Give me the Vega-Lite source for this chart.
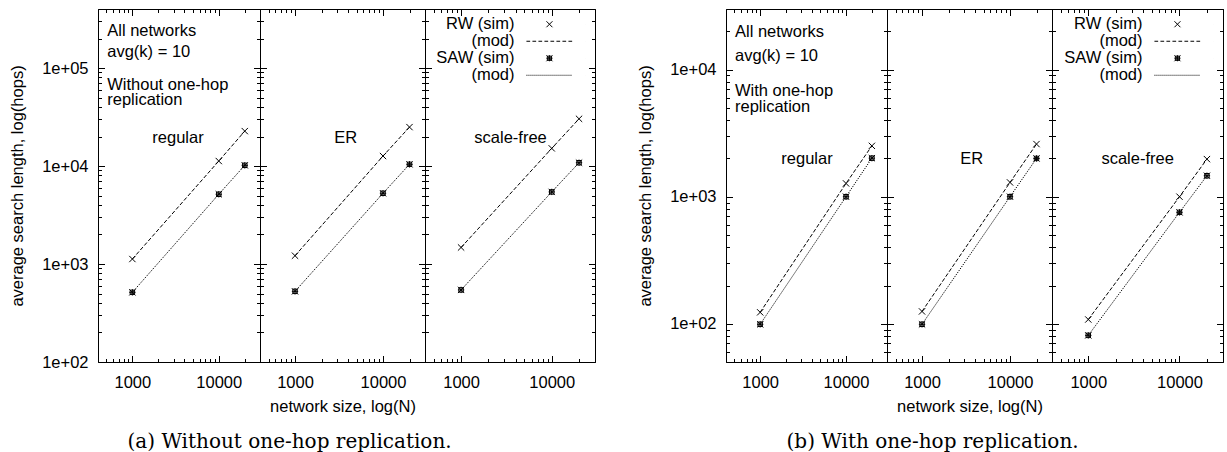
{
  "$schema": "https://vega.github.io/schema/vega-lite/v6.json",
  "padding": {"left": 9, "top": 0, "right": 0, "bottom": 0},
  "background": "white",
  "config": {
    "font": "Liberation Sans",
    "view": {"stroke": "black", "strokeWidth": 1},
    "axis": {"labelFont": "Liberation Sans", "titleFont": "Liberation Sans", "labelFontSize": 16.5, "titleFontSize": 16.5, "titleFontWeight": "normal", "labelColor": "black", "titleColor": "black", "tickColor": "black", "tickWidth": 1, "domain": false, "grid": false, "tickSize": -4, "labelOverlap": false, "labelFlush": false, "labelBound": false},
    "legend": {"labelFont": "Liberation Sans", "labelFontSize": 16.5, "labelColor": "black"}
  },
  "datasets": {
    "rows": [
      {"fig": "a", "net": "regular", "series": "RW (sim)", "N": 1000, "hops": 1124},
      {"fig": "a", "net": "regular", "series": "RW (sim)", "N": 10000, "hops": 11240},
      {"fig": "a", "net": "regular", "series": "RW (sim)", "N": 20000, "hops": 22700},
      {"fig": "a", "net": "regular", "series": "RW (mod)", "N": 1000, "hops": 1124},
      {"fig": "a", "net": "regular", "series": "RW (mod)", "N": 10000, "hops": 11240},
      {"fig": "a", "net": "regular", "series": "RW (mod)", "N": 20000, "hops": 22700},
      {"fig": "a", "net": "regular", "series": "SAW (sim)", "N": 1000, "hops": 514},
      {"fig": "a", "net": "regular", "series": "SAW (sim)", "N": 10000, "hops": 5150},
      {"fig": "a", "net": "regular", "series": "SAW (sim)", "N": 20000, "hops": 10160},
      {"fig": "a", "net": "regular", "series": "SAW (mod)", "N": 1000, "hops": 514},
      {"fig": "a", "net": "regular", "series": "SAW (mod)", "N": 10000, "hops": 5150},
      {"fig": "a", "net": "regular", "series": "SAW (mod)", "N": 20000, "hops": 10160},
      {"fig": "a", "net": "ER", "series": "RW (sim)", "N": 1000, "hops": 1215},
      {"fig": "a", "net": "ER", "series": "RW (sim)", "N": 10000, "hops": 12640},
      {"fig": "a", "net": "ER", "series": "RW (sim)", "N": 20000, "hops": 24940},
      {"fig": "a", "net": "ER", "series": "RW (mod)", "N": 1000, "hops": 1215},
      {"fig": "a", "net": "ER", "series": "RW (mod)", "N": 10000, "hops": 12640},
      {"fig": "a", "net": "ER", "series": "RW (mod)", "N": 20000, "hops": 24940},
      {"fig": "a", "net": "ER", "series": "SAW (sim)", "N": 1000, "hops": 526},
      {"fig": "a", "net": "ER", "series": "SAW (sim)", "N": 10000, "hops": 5270},
      {"fig": "a", "net": "ER", "series": "SAW (sim)", "N": 20000, "hops": 10400},
      {"fig": "a", "net": "ER", "series": "SAW (mod)", "N": 1000, "hops": 526},
      {"fig": "a", "net": "ER", "series": "SAW (mod)", "N": 10000, "hops": 5270},
      {"fig": "a", "net": "ER", "series": "SAW (mod)", "N": 20000, "hops": 10400},
      {"fig": "a", "net": "scale-free", "series": "RW (sim)", "N": 1000, "hops": 1475},
      {"fig": "a", "net": "scale-free", "series": "RW (sim)", "N": 10000, "hops": 15140},
      {"fig": "a", "net": "scale-free", "series": "RW (sim)", "N": 20000, "hops": 30300},
      {"fig": "a", "net": "scale-free", "series": "RW (mod)", "N": 1000, "hops": 1475},
      {"fig": "a", "net": "scale-free", "series": "RW (mod)", "N": 10000, "hops": 15140},
      {"fig": "a", "net": "scale-free", "series": "RW (mod)", "N": 20000, "hops": 30300},
      {"fig": "a", "net": "scale-free", "series": "SAW (sim)", "N": 1000, "hops": 544},
      {"fig": "a", "net": "scale-free", "series": "SAW (sim)", "N": 10000, "hops": 5440},
      {"fig": "a", "net": "scale-free", "series": "SAW (sim)", "N": 20000, "hops": 10800},
      {"fig": "a", "net": "scale-free", "series": "SAW (mod)", "N": 1000, "hops": 544},
      {"fig": "a", "net": "scale-free", "series": "SAW (mod)", "N": 10000, "hops": 5440},
      {"fig": "a", "net": "scale-free", "series": "SAW (mod)", "N": 20000, "hops": 10800},
      {"fig": "b", "net": "regular", "series": "RW (sim)", "N": 1000, "hops": 123},
      {"fig": "b", "net": "regular", "series": "RW (sim)", "N": 10000, "hops": 1272},
      {"fig": "b", "net": "regular", "series": "RW (sim)", "N": 20000, "hops": 2512},
      {"fig": "b", "net": "regular", "series": "RW (mod)", "N": 1000, "hops": 123},
      {"fig": "b", "net": "regular", "series": "RW (mod)", "N": 10000, "hops": 1272},
      {"fig": "b", "net": "regular", "series": "RW (mod)", "N": 20000, "hops": 2512},
      {"fig": "b", "net": "regular", "series": "SAW (sim)", "N": 1000, "hops": 99},
      {"fig": "b", "net": "regular", "series": "SAW (sim)", "N": 10000, "hops": 1000},
      {"fig": "b", "net": "regular", "series": "SAW (sim)", "N": 20000, "hops": 2010},
      {"fig": "b", "net": "regular", "series": "SAW (mod)", "N": 1000, "hops": 99},
      {"fig": "b", "net": "regular", "series": "SAW (mod)", "N": 10000, "hops": 1000},
      {"fig": "b", "net": "regular", "series": "SAW (mod)", "N": 20000, "hops": 2010},
      {"fig": "b", "net": "ER", "series": "RW (sim)", "N": 1000, "hops": 125},
      {"fig": "b", "net": "ER", "series": "RW (sim)", "N": 10000, "hops": 1295},
      {"fig": "b", "net": "ER", "series": "RW (sim)", "N": 20000, "hops": 2595},
      {"fig": "b", "net": "ER", "series": "RW (mod)", "N": 1000, "hops": 125},
      {"fig": "b", "net": "ER", "series": "RW (mod)", "N": 10000, "hops": 1295},
      {"fig": "b", "net": "ER", "series": "RW (mod)", "N": 20000, "hops": 2595},
      {"fig": "b", "net": "ER", "series": "SAW (sim)", "N": 1000, "hops": 99},
      {"fig": "b", "net": "ER", "series": "SAW (sim)", "N": 10000, "hops": 1000},
      {"fig": "b", "net": "ER", "series": "SAW (sim)", "N": 20000, "hops": 2000},
      {"fig": "b", "net": "ER", "series": "SAW (mod)", "N": 1000, "hops": 99},
      {"fig": "b", "net": "ER", "series": "SAW (mod)", "N": 10000, "hops": 1000},
      {"fig": "b", "net": "ER", "series": "SAW (mod)", "N": 20000, "hops": 2000},
      {"fig": "b", "net": "scale-free", "series": "RW (sim)", "N": 1000, "hops": 108},
      {"fig": "b", "net": "scale-free", "series": "RW (sim)", "N": 10000, "hops": 1000},
      {"fig": "b", "net": "scale-free", "series": "RW (sim)", "N": 20000, "hops": 1976},
      {"fig": "b", "net": "scale-free", "series": "RW (mod)", "N": 1000, "hops": 108},
      {"fig": "b", "net": "scale-free", "series": "RW (mod)", "N": 10000, "hops": 1000},
      {"fig": "b", "net": "scale-free", "series": "RW (mod)", "N": 20000, "hops": 1976},
      {"fig": "b", "net": "scale-free", "series": "SAW (sim)", "N": 1000, "hops": 81},
      {"fig": "b", "net": "scale-free", "series": "SAW (sim)", "N": 10000, "hops": 753},
      {"fig": "b", "net": "scale-free", "series": "SAW (sim)", "N": 20000, "hops": 1462},
      {"fig": "b", "net": "scale-free", "series": "SAW (mod)", "N": 1000, "hops": 81},
      {"fig": "b", "net": "scale-free", "series": "SAW (mod)", "N": 10000, "hops": 753},
      {"fig": "b", "net": "scale-free", "series": "SAW (mod)", "N": 20000, "hops": 1462}
    ]
  },
  "hconcat": [
    {
      "title": {"text": "(a) Without one-hop replication.", "orient": "bottom", "anchor": "middle", "frame": "bounds", "font": "DejaVu Serif", "fontSize": 20, "fontWeight": "normal", "color": "black", "offset": 16.5, "dx": -13},
      "spacing": 0,
      "bounds": "flush",
      "resolve": {"scale": {"shape": "independent", "strokeDash": "independent"}},
      "hconcat": [
        {
          "width": 162, "height": 353,
          "data": {"name": "rows"},
          "transform": [{"filter": "datum.fig == 'a' && datum.net == 'regular'"}],
          "layer": [
            {
              "transform": [{"filter": "datum.series == 'RW (sim)'"}],
              "mark": {"type": "point", "shape": "M-1,-1L1,1M-1,1L1,-1", "filled": false, "stroke": "black", "strokeWidth": 1, "size": 40, "opacity": 1},
              "encoding": {
                "x": {"field": "N", "type": "quantitative", "scale": {"type": "log", "domain": [400, 30000], "nice": false},
                  "axis": {"orient": "bottom", "values": [400,500,600,700,800,900,1000,2000,3000,4000,5000,6000,7000,8000,9000,10000,20000,30000], "labelExpr": "datum.value == 1000 || datum.value == 10000 ? format(datum.value, 'd') : ''", "tickSize": {"condition": {"test": "datum.value == 1000 || datum.value == 10000", "value": -6.5}, "value": -3.5}, "labelPadding": 18.5, "title": null}},
                "y": {"field": "hops", "type": "quantitative", "scale": {"type": "log", "domain": [100, 400000], "nice": false},
                  "axis": {"orient": "left", "values": [100,200,300,400,500,600,700,800,900,1000,2000,3000,4000,5000,6000,7000,8000,9000,10000,20000,30000,40000,50000,60000,70000,80000,90000,100000,200000,300000,400000], "labelExpr": "indexof([100,1000,10000,100000], datum.value) >= 0 ? '1e+0' + round(log(datum.value)/LN10) : ''", "tickSize": {"condition": {"test": "indexof([100,1000,10000,100000], datum.value) >= 0", "value": -6.5}, "value": -3.5}, "labelPadding": 16.5, "title": "average search length, log(hops)", "titlePadding": 16}}
              }
            },
            {
              "transform": [{"filter": "datum.series == 'SAW (sim)'"}],
              "mark": {"type": "point", "shape": "M-1,-1L1,1M-1,1L1,-1M-1,0L1,0M0,-1L0,1M-0.7,-0.7L0.7,-0.7L0.7,0.7L-0.7,0.7Z", "filled": false, "stroke": "black", "strokeWidth": 1, "size": 40, "opacity": 1},
              "encoding": {
                "x": {"field": "N", "type": "quantitative", "axis": null},
                "y": {"field": "hops", "type": "quantitative", "axis": null}
              }
            },
            {
              "transform": [{"filter": "indexof(datum.series, 'mod') >= 0"}],
              "mark": {"type": "line", "stroke": "black", "strokeWidth": 1},
              "encoding": {
                "x": {"field": "N", "type": "quantitative",
                  "axis": {"orient": "top", "values": [400,500,600,700,800,900,1000,2000,3000,4000,5000,6000,7000,8000,9000,10000,20000,30000], "labels": false, "tickSize": {"condition": {"test": "datum.value == 1000 || datum.value == 10000", "value": -6.5}, "value": -3.5}, "title": null}},
                "y": {"field": "hops", "type": "quantitative",
                  "axis": {"orient": "right", "values": [100,200,300,400,500,600,700,800,900,1000,2000,3000,4000,5000,6000,7000,8000,9000,10000,20000,30000,40000,50000,60000,70000,80000,90000,100000,200000,300000,400000], "labels": false, "tickSize": {"condition": {"test": "indexof([100,1000,10000,100000], datum.value) >= 0", "value": -6.5}, "value": -3.5}, "title": null}},
                "strokeDash": {"field": "series", "type": "nominal", "scale": {"domain": ["RW (mod)", "SAW (mod)"], "range": [[4, 2], [1.2, 1.2]]}, "legend": null}
              }
            },
            {
              "data": {"values": [{"label": "All networks"}]},
              "mark": {"type": "text", "align": "left", "baseline": "middle", "fontSize": 16.5, "color": "black"},
              "encoding": {"x": {"datum": 512, "type": "quantitative", "axis": null}, "y": {"datum": 240000, "type": "quantitative", "axis": null}, "text": {"field": "label"}}
            },
            {
              "data": {"values": [{"label": "avg(k) = 10"}]},
              "mark": {"type": "text", "align": "left", "baseline": "middle", "fontSize": 16.5, "color": "black"},
              "encoding": {"x": {"datum": 512, "type": "quantitative", "axis": null}, "y": {"datum": 145500, "type": "quantitative", "axis": null}, "text": {"field": "label"}}
            },
            {
              "data": {"values": [{"label": "Without one-hop"}]},
              "mark": {"type": "text", "align": "left", "baseline": "middle", "fontSize": 16.5, "color": "black"},
              "encoding": {"x": {"datum": 512, "type": "quantitative", "axis": null}, "y": {"datum": 67800, "type": "quantitative", "axis": null}, "text": {"field": "label"}}
            },
            {
              "data": {"values": [{"label": "replication"}]},
              "mark": {"type": "text", "align": "left", "baseline": "middle", "fontSize": 16.5, "color": "black"},
              "encoding": {"x": {"datum": 512, "type": "quantitative", "axis": null}, "y": {"datum": 46600, "type": "quantitative", "axis": null}, "text": {"field": "label"}}
            },
            {
              "data": {"values": [{"label": "regular"}]},
              "mark": {"type": "text", "align": "center", "baseline": "middle", "fontSize": 16.5, "color": "black"},
              "encoding": {"x": {"datum": 3375, "type": "quantitative", "axis": null}, "y": {"datum": 19400, "type": "quantitative", "axis": null}, "text": {"field": "label"}}
            }
          ],
          "resolve": {"axis": {"x": "independent", "y": "independent"}}
        },
        {
          "width": 165, "height": 353,
          "data": {"name": "rows"},
          "transform": [{"filter": "datum.fig == 'a' && datum.net == 'ER'"}],
          "layer": [
            {
              "transform": [{"filter": "datum.series == 'RW (sim)'"}],
              "mark": {"type": "point", "shape": "M-1,-1L1,1M-1,1L1,-1", "filled": false, "stroke": "black", "strokeWidth": 1, "size": 40, "opacity": 1},
              "encoding": {
                "x": {"field": "N", "type": "quantitative", "scale": {"type": "log", "domain": [400, 30000], "nice": false},
                  "axis": {"orient": "bottom", "values": [400,500,600,700,800,900,1000,2000,3000,4000,5000,6000,7000,8000,9000,10000,20000,30000], "labelExpr": "datum.value == 1000 || datum.value == 10000 ? format(datum.value, 'd') : ''", "tickSize": {"condition": {"test": "datum.value == 1000 || datum.value == 10000", "value": -6.5}, "value": -3.5}, "labelPadding": 18.5, "title": "network size, log(N)", "titlePadding": 5}},
                "y": {"field": "hops", "type": "quantitative", "scale": {"type": "log", "domain": [100, 400000], "nice": false},
                  "axis": {"orient": "left", "values": [100,200,300,400,500,600,700,800,900,1000,2000,3000,4000,5000,6000,7000,8000,9000,10000,20000,30000,40000,50000,60000,70000,80000,90000,100000,200000,300000,400000], "labels": false, "tickSize": {"condition": {"test": "indexof([100,1000,10000,100000], datum.value) >= 0", "value": -6.5}, "value": -3.5}, "title": null}}
              }
            },
            {
              "transform": [{"filter": "datum.series == 'SAW (sim)'"}],
              "mark": {"type": "point", "shape": "M-1,-1L1,1M-1,1L1,-1M-1,0L1,0M0,-1L0,1M-0.7,-0.7L0.7,-0.7L0.7,0.7L-0.7,0.7Z", "filled": false, "stroke": "black", "strokeWidth": 1, "size": 40, "opacity": 1},
              "encoding": {
                "x": {"field": "N", "type": "quantitative", "axis": null},
                "y": {"field": "hops", "type": "quantitative", "axis": null}
              }
            },
            {
              "transform": [{"filter": "indexof(datum.series, 'mod') >= 0"}],
              "mark": {"type": "line", "stroke": "black", "strokeWidth": 1},
              "encoding": {
                "x": {"field": "N", "type": "quantitative",
                  "axis": {"orient": "top", "values": [400,500,600,700,800,900,1000,2000,3000,4000,5000,6000,7000,8000,9000,10000,20000,30000], "labels": false, "tickSize": {"condition": {"test": "datum.value == 1000 || datum.value == 10000", "value": -6.5}, "value": -3.5}, "title": null}},
                "y": {"field": "hops", "type": "quantitative",
                  "axis": {"orient": "right", "values": [100,200,300,400,500,600,700,800,900,1000,2000,3000,4000,5000,6000,7000,8000,9000,10000,20000,30000,40000,50000,60000,70000,80000,90000,100000,200000,300000,400000], "labels": false, "tickSize": {"condition": {"test": "indexof([100,1000,10000,100000], datum.value) >= 0", "value": -6.5}, "value": -3.5}, "title": null}},
                "strokeDash": {"field": "series", "type": "nominal", "scale": {"domain": ["RW (mod)", "SAW (mod)"], "range": [[4, 2], [1.2, 1.2]]}, "legend": null}
              }
            },
            {
              "data": {"values": [{"label": "ER"}]},
              "mark": {"type": "text", "align": "center", "baseline": "middle", "fontSize": 16.5, "color": "black"},
              "encoding": {"x": {"datum": 3760, "type": "quantitative", "axis": null}, "y": {"datum": 19400, "type": "quantitative", "axis": null}, "text": {"field": "label"}}
            }
          ],
          "resolve": {"axis": {"x": "independent", "y": "independent"}}
        },
        {
          "width": 170, "height": 353,
          "data": {"name": "rows"},
          "transform": [{"filter": "datum.fig == 'a' && datum.net == 'scale-free'"}],
          "layer": [
            {
              "transform": [{"filter": "datum.series == 'RW (sim)'"}],
              "mark": {"type": "point", "shape": "M-1,-1L1,1M-1,1L1,-1", "filled": false, "stroke": "black", "strokeWidth": 1, "size": 40, "opacity": 1},
              "encoding": {
                "x": {"field": "N", "type": "quantitative", "scale": {"type": "log", "domain": [400, 30000], "nice": false},
                  "axis": {"orient": "bottom", "values": [400,500,600,700,800,900,1000,2000,3000,4000,5000,6000,7000,8000,9000,10000,20000,30000], "labelExpr": "datum.value == 1000 || datum.value == 10000 ? format(datum.value, 'd') : ''", "tickSize": {"condition": {"test": "datum.value == 1000 || datum.value == 10000", "value": -6.5}, "value": -3.5}, "labelPadding": 18.5, "title": null}},
                "y": {"field": "hops", "type": "quantitative", "scale": {"type": "log", "domain": [100, 400000], "nice": false},
                  "axis": {"orient": "left", "values": [100,200,300,400,500,600,700,800,900,1000,2000,3000,4000,5000,6000,7000,8000,9000,10000,20000,30000,40000,50000,60000,70000,80000,90000,100000,200000,300000,400000], "labels": false, "tickSize": {"condition": {"test": "indexof([100,1000,10000,100000], datum.value) >= 0", "value": -6.5}, "value": -3.5}, "title": null}}
              }
            },
            {
              "transform": [{"filter": "datum.series == 'SAW (sim)'"}],
              "mark": {"type": "point", "shape": "M-1,-1L1,1M-1,1L1,-1M-1,0L1,0M0,-1L0,1M-0.7,-0.7L0.7,-0.7L0.7,0.7L-0.7,0.7Z", "filled": false, "stroke": "black", "strokeWidth": 1, "size": 40, "opacity": 1},
              "encoding": {
                "x": {"field": "N", "type": "quantitative", "axis": null},
                "y": {"field": "hops", "type": "quantitative", "axis": null}
              }
            },
            {
              "transform": [{"filter": "indexof(datum.series, 'mod') >= 0"}],
              "mark": {"type": "line", "stroke": "black", "strokeWidth": 1},
              "encoding": {
                "x": {"field": "N", "type": "quantitative",
                  "axis": {"orient": "top", "values": [400,500,600,700,800,900,1000,2000,3000,4000,5000,6000,7000,8000,9000,10000,20000,30000], "labels": false, "tickSize": {"condition": {"test": "datum.value == 1000 || datum.value == 10000", "value": -6.5}, "value": -3.5}, "title": null}},
                "y": {"field": "hops", "type": "quantitative",
                  "axis": {"orient": "right", "values": [100,200,300,400,500,600,700,800,900,1000,2000,3000,4000,5000,6000,7000,8000,9000,10000,20000,30000,40000,50000,60000,70000,80000,90000,100000,200000,300000,400000], "labels": false, "tickSize": {"condition": {"test": "indexof([100,1000,10000,100000], datum.value) >= 0", "value": -6.5}, "value": -3.5}, "title": null}},
                "strokeDash": {"field": "series", "type": "nominal", "scale": {"domain": ["RW (mod)", "SAW (mod)"], "range": [[4, 2], [1.2, 1.2]]}, "legend": null}
              }
            },
            {
              "data": {"values": [{"label": "scale-free"}]},
              "mark": {"type": "text", "align": "center", "baseline": "middle", "fontSize": 16.5, "color": "black"},
              "encoding": {"x": {"datum": 3515, "type": "quantitative", "axis": null}, "y": {"datum": 19500, "type": "quantitative", "axis": null}, "text": {"field": "label"}}
            },
            {
              "transform": [{"filter": "indexof(datum.series, 'sim') >= 0"}],
              "mark": {"type": "point", "filled": false, "opacity": 0, "stroke": "black", "size": 49},
              "encoding": {
                "shape": {"field": "series", "type": "nominal",
                  "scale": {"domain": ["RW (sim)", "RW (mod)", "SAW (sim)", "SAW (mod)"], "range": [
                    "M-30,0l0.001,0M19.2,0l0.001,0M8.057,-0.857L9.771,0.857M8.057,0.857L9.771,-0.857",
                    "M-30,0l0.001,0M19.2,0l0.001,0M2.343,0h1.057m0.657,0h1.057m0.657,0h1.057m0.657,0h1.057m0.657,0h1.057m0.657,0h1.057m0.657,0h1.057m0.657,0h1.057",
                    "M-30,0l0.001,0M19.2,0l0.001,0M8.057,-0.857L9.771,0.857M8.057,0.857L9.771,-0.857M8.057,0L9.771,0M8.914,-0.857L8.914,0.857M8.314,-0.6L9.514,-0.6L9.514,0.6L8.314,0.6Z",
                    "M-30,0l0.001,0M19.2,0l0.001,0M2.343,0h0.286m0.286,0h0.286m0.286,0h0.286m0.286,0h0.286m0.286,0h0.286m0.286,0h0.286m0.286,0h0.286m0.286,0h0.286m0.286,0h0.286m0.286,0h0.286m0.286,0h0.286m0.286,0h0.286m0.286,0h0.286m0.286,0h0.286m0.286,0h0.286m0.286,0h0.286m0.286,0h0.286m0.286,0h0.286m0.286,0h0.286m0.286,0h0.286m0.286,0h0.286m0.286,0h0.286m0.286,0h0.286"]},
                  "legend": {"orient": "top-right", "offset": 7, "padding": 0, "title": null, "labelExpr": "indexof(datum.label, 'mod') >= 0 ? '(mod)' : datum.label", "labelAlign": "right", "labelOffset": -12, "symbolSize": 49, "symbolStrokeColor": "black", "symbolFillColor": "transparent", "symbolStrokeWidth": 1, "symbolOpacity": 1, "rowPadding": -1}}
              }
            }
          ],
          "resolve": {"axis": {"x": "independent", "y": "independent"}}
        }
      ]
    },
    {
      "title": {"text": "(b) With one-hop replication.", "orient": "bottom", "anchor": "middle", "frame": "bounds", "font": "DejaVu Serif", "fontSize": 20, "fontWeight": "normal", "color": "black", "offset": 16.5, "dx": 2},
      "spacing": 0,
      "bounds": "flush",
      "resolve": {"scale": {"shape": "independent", "strokeDash": "independent"}},
      "hconcat": [
        {
          "width": 161, "height": 353,
          "data": {"name": "rows"},
          "transform": [{"filter": "datum.fig == 'b' && datum.net == 'regular'"}],
          "layer": [
            {
              "transform": [{"filter": "datum.series == 'RW (sim)'"}],
              "mark": {"type": "point", "shape": "M-1,-1L1,1M-1,1L1,-1", "filled": false, "stroke": "black", "strokeWidth": 1, "size": 40, "opacity": 1},
              "encoding": {
                "x": {"field": "N", "type": "quantitative", "scale": {"type": "log", "domain": [400, 30000], "nice": false},
                  "axis": {"orient": "bottom", "values": [400,500,600,700,800,900,1000,2000,3000,4000,5000,6000,7000,8000,9000,10000,20000,30000], "labelExpr": "datum.value == 1000 || datum.value == 10000 ? format(datum.value, 'd') : ''", "tickSize": {"condition": {"test": "datum.value == 1000 || datum.value == 10000", "value": -6.5}, "value": -3.5}, "labelPadding": 18.5, "title": null}},
                "y": {"field": "hops", "type": "quantitative", "scale": {"type": "log", "domain": [50, 30000], "nice": false},
                  "axis": {"orient": "left", "values": [50,60,70,80,90,100,200,300,400,500,600,700,800,900,1000,2000,3000,4000,5000,6000,7000,8000,9000,10000,20000,30000], "labelExpr": "indexof([100,1000,10000], datum.value) >= 0 ? '1e+0' + round(log(datum.value)/LN10) : ''", "tickSize": {"condition": {"test": "indexof([100,1000,10000], datum.value) >= 0", "value": -6.5}, "value": -3.5}, "labelPadding": 16.5, "title": "average search length, log(hops)", "titlePadding": 16}}
              }
            },
            {
              "transform": [{"filter": "datum.series == 'SAW (sim)'"}],
              "mark": {"type": "point", "shape": "M-1,-1L1,1M-1,1L1,-1M-1,0L1,0M0,-1L0,1M-0.7,-0.7L0.7,-0.7L0.7,0.7L-0.7,0.7Z", "filled": false, "stroke": "black", "strokeWidth": 1, "size": 40, "opacity": 1},
              "encoding": {
                "x": {"field": "N", "type": "quantitative", "axis": null},
                "y": {"field": "hops", "type": "quantitative", "axis": null}
              }
            },
            {
              "transform": [{"filter": "indexof(datum.series, 'mod') >= 0"}],
              "mark": {"type": "line", "stroke": "black", "strokeWidth": 1},
              "encoding": {
                "x": {"field": "N", "type": "quantitative",
                  "axis": {"orient": "top", "values": [400,500,600,700,800,900,1000,2000,3000,4000,5000,6000,7000,8000,9000,10000,20000,30000], "labels": false, "tickSize": {"condition": {"test": "datum.value == 1000 || datum.value == 10000", "value": -6.5}, "value": -3.5}, "title": null}},
                "y": {"field": "hops", "type": "quantitative",
                  "axis": {"orient": "right", "values": [50,60,70,80,90,100,200,300,400,500,600,700,800,900,1000,2000,3000,4000,5000,6000,7000,8000,9000,10000,20000,30000], "labels": false, "tickSize": {"condition": {"test": "indexof([100,1000,10000], datum.value) >= 0", "value": -6.5}, "value": -3.5}, "title": null}},
                "strokeDash": {"field": "series", "type": "nominal", "scale": {"domain": ["RW (mod)", "SAW (mod)"], "range": [[4, 2], [1.2, 1.2]]}, "legend": null}
              }
            },
            {
              "data": {"values": [{"label": "All networks"}]},
              "mark": {"type": "text", "align": "left", "baseline": "middle", "fontSize": 16.5, "color": "black"},
              "encoding": {"x": {"datum": 509, "type": "quantitative", "axis": null}, "y": {"datum": 19950, "type": "quantitative", "axis": null}, "text": {"field": "label"}}
            },
            {
              "data": {"values": [{"label": "avg(k) = 10"}]},
              "mark": {"type": "text", "align": "left", "baseline": "middle", "fontSize": 16.5, "color": "black"},
              "encoding": {"x": {"datum": 509, "type": "quantitative", "axis": null}, "y": {"datum": 12700, "type": "quantitative", "axis": null}, "text": {"field": "label"}}
            },
            {
              "data": {"values": [{"label": "With one-hop"}]},
              "mark": {"type": "text", "align": "left", "baseline": "middle", "fontSize": 16.5, "color": "black"},
              "encoding": {"x": {"datum": 509, "type": "quantitative", "axis": null}, "y": {"datum": 6840, "type": "quantitative", "axis": null}, "text": {"field": "label"}}
            },
            {
              "data": {"values": [{"label": "replication"}]},
              "mark": {"type": "text", "align": "left", "baseline": "middle", "fontSize": 16.5, "color": "black"},
              "encoding": {"x": {"datum": 509, "type": "quantitative", "axis": null}, "y": {"datum": 5060, "type": "quantitative", "axis": null}, "text": {"field": "label"}}
            },
            {
              "data": {"values": [{"label": "regular"}]},
              "mark": {"type": "text", "align": "center", "baseline": "middle", "fontSize": 16.5, "color": "black"},
              "encoding": {"x": {"datum": 3510, "type": "quantitative", "axis": null}, "y": {"datum": 1976, "type": "quantitative", "axis": null}, "text": {"field": "label"}}
            }
          ],
          "resolve": {"axis": {"x": "independent", "y": "independent"}}
        },
        {
          "width": 165, "height": 353,
          "data": {"name": "rows"},
          "transform": [{"filter": "datum.fig == 'b' && datum.net == 'ER'"}],
          "layer": [
            {
              "transform": [{"filter": "datum.series == 'RW (sim)'"}],
              "mark": {"type": "point", "shape": "M-1,-1L1,1M-1,1L1,-1", "filled": false, "stroke": "black", "strokeWidth": 1, "size": 40, "opacity": 1},
              "encoding": {
                "x": {"field": "N", "type": "quantitative", "scale": {"type": "log", "domain": [400, 30000], "nice": false},
                  "axis": {"orient": "bottom", "values": [400,500,600,700,800,900,1000,2000,3000,4000,5000,6000,7000,8000,9000,10000,20000,30000], "labelExpr": "datum.value == 1000 || datum.value == 10000 ? format(datum.value, 'd') : ''", "tickSize": {"condition": {"test": "datum.value == 1000 || datum.value == 10000", "value": -6.5}, "value": -3.5}, "labelPadding": 18.5, "title": "network size, log(N)", "titlePadding": 5}},
                "y": {"field": "hops", "type": "quantitative", "scale": {"type": "log", "domain": [50, 30000], "nice": false},
                  "axis": {"orient": "left", "values": [50,60,70,80,90,100,200,300,400,500,600,700,800,900,1000,2000,3000,4000,5000,6000,7000,8000,9000,10000,20000,30000], "labels": false, "tickSize": {"condition": {"test": "indexof([100,1000,10000], datum.value) >= 0", "value": -6.5}, "value": -3.5}, "title": null}}
              }
            },
            {
              "transform": [{"filter": "datum.series == 'SAW (sim)'"}],
              "mark": {"type": "point", "shape": "M-1,-1L1,1M-1,1L1,-1M-1,0L1,0M0,-1L0,1M-0.7,-0.7L0.7,-0.7L0.7,0.7L-0.7,0.7Z", "filled": false, "stroke": "black", "strokeWidth": 1, "size": 40, "opacity": 1},
              "encoding": {
                "x": {"field": "N", "type": "quantitative", "axis": null},
                "y": {"field": "hops", "type": "quantitative", "axis": null}
              }
            },
            {
              "transform": [{"filter": "indexof(datum.series, 'mod') >= 0"}],
              "mark": {"type": "line", "stroke": "black", "strokeWidth": 1},
              "encoding": {
                "x": {"field": "N", "type": "quantitative",
                  "axis": {"orient": "top", "values": [400,500,600,700,800,900,1000,2000,3000,4000,5000,6000,7000,8000,9000,10000,20000,30000], "labels": false, "tickSize": {"condition": {"test": "datum.value == 1000 || datum.value == 10000", "value": -6.5}, "value": -3.5}, "title": null}},
                "y": {"field": "hops", "type": "quantitative",
                  "axis": {"orient": "right", "values": [50,60,70,80,90,100,200,300,400,500,600,700,800,900,1000,2000,3000,4000,5000,6000,7000,8000,9000,10000,20000,30000], "labels": false, "tickSize": {"condition": {"test": "indexof([100,1000,10000], datum.value) >= 0", "value": -6.5}, "value": -3.5}, "title": null}},
                "strokeDash": {"field": "series", "type": "nominal", "scale": {"domain": ["RW (mod)", "SAW (mod)"], "range": [[4, 2], [1.2, 1.2]]}, "legend": null}
              }
            },
            {
              "data": {"values": [{"label": "ER"}]},
              "mark": {"type": "text", "align": "center", "baseline": "middle", "fontSize": 16.5, "color": "black"},
              "encoding": {"x": {"datum": 3665, "type": "quantitative", "axis": null}, "y": {"datum": 1976, "type": "quantitative", "axis": null}, "text": {"field": "label"}}
            }
          ],
          "resolve": {"axis": {"x": "independent", "y": "independent"}}
        },
        {
          "width": 171, "height": 353,
          "data": {"name": "rows"},
          "transform": [{"filter": "datum.fig == 'b' && datum.net == 'scale-free'"}],
          "layer": [
            {
              "transform": [{"filter": "datum.series == 'RW (sim)'"}],
              "mark": {"type": "point", "shape": "M-1,-1L1,1M-1,1L1,-1", "filled": false, "stroke": "black", "strokeWidth": 1, "size": 40, "opacity": 1},
              "encoding": {
                "x": {"field": "N", "type": "quantitative", "scale": {"type": "log", "domain": [400, 30000], "nice": false},
                  "axis": {"orient": "bottom", "values": [400,500,600,700,800,900,1000,2000,3000,4000,5000,6000,7000,8000,9000,10000,20000,30000], "labelExpr": "datum.value == 1000 || datum.value == 10000 ? format(datum.value, 'd') : ''", "tickSize": {"condition": {"test": "datum.value == 1000 || datum.value == 10000", "value": -6.5}, "value": -3.5}, "labelPadding": 18.5, "title": null}},
                "y": {"field": "hops", "type": "quantitative", "scale": {"type": "log", "domain": [50, 30000], "nice": false},
                  "axis": {"orient": "left", "values": [50,60,70,80,90,100,200,300,400,500,600,700,800,900,1000,2000,3000,4000,5000,6000,7000,8000,9000,10000,20000,30000], "labels": false, "tickSize": {"condition": {"test": "indexof([100,1000,10000], datum.value) >= 0", "value": -6.5}, "value": -3.5}, "title": null}}
              }
            },
            {
              "transform": [{"filter": "datum.series == 'SAW (sim)'"}],
              "mark": {"type": "point", "shape": "M-1,-1L1,1M-1,1L1,-1M-1,0L1,0M0,-1L0,1M-0.7,-0.7L0.7,-0.7L0.7,0.7L-0.7,0.7Z", "filled": false, "stroke": "black", "strokeWidth": 1, "size": 40, "opacity": 1},
              "encoding": {
                "x": {"field": "N", "type": "quantitative", "axis": null},
                "y": {"field": "hops", "type": "quantitative", "axis": null}
              }
            },
            {
              "transform": [{"filter": "indexof(datum.series, 'mod') >= 0"}],
              "mark": {"type": "line", "stroke": "black", "strokeWidth": 1},
              "encoding": {
                "x": {"field": "N", "type": "quantitative",
                  "axis": {"orient": "top", "values": [400,500,600,700,800,900,1000,2000,3000,4000,5000,6000,7000,8000,9000,10000,20000,30000], "labels": false, "tickSize": {"condition": {"test": "datum.value == 1000 || datum.value == 10000", "value": -6.5}, "value": -3.5}, "title": null}},
                "y": {"field": "hops", "type": "quantitative",
                  "axis": {"orient": "right", "values": [50,60,70,80,90,100,200,300,400,500,600,700,800,900,1000,2000,3000,4000,5000,6000,7000,8000,9000,10000,20000,30000], "labels": false, "tickSize": {"condition": {"test": "indexof([100,1000,10000], datum.value) >= 0", "value": -6.5}, "value": -3.5}, "title": null}},
                "strokeDash": {"field": "series", "type": "nominal", "scale": {"domain": ["RW (mod)", "SAW (mod)"], "range": [[4, 2], [1.2, 1.2]]}, "legend": null}
              }
            },
            {
              "data": {"values": [{"label": "scale-free"}]},
              "mark": {"type": "text", "align": "center", "baseline": "middle", "fontSize": 16.5, "color": "black"},
              "encoding": {"x": {"datum": 3475, "type": "quantitative", "axis": null}, "y": {"datum": 1972, "type": "quantitative", "axis": null}, "text": {"field": "label"}}
            },
            {
              "transform": [{"filter": "indexof(datum.series, 'sim') >= 0"}],
              "mark": {"type": "point", "filled": false, "opacity": 0, "stroke": "black", "size": 49},
              "encoding": {
                "shape": {"field": "series", "type": "nominal",
                  "scale": {"domain": ["RW (sim)", "RW (mod)", "SAW (sim)", "SAW (mod)"], "range": [
                    "M-30,0l0.001,0M19.2,0l0.001,0M8.057,-0.857L9.771,0.857M8.057,0.857L9.771,-0.857",
                    "M-30,0l0.001,0M19.2,0l0.001,0M2.343,0h1.057m0.657,0h1.057m0.657,0h1.057m0.657,0h1.057m0.657,0h1.057m0.657,0h1.057m0.657,0h1.057m0.657,0h1.057",
                    "M-30,0l0.001,0M19.2,0l0.001,0M8.057,-0.857L9.771,0.857M8.057,0.857L9.771,-0.857M8.057,0L9.771,0M8.914,-0.857L8.914,0.857M8.314,-0.6L9.514,-0.6L9.514,0.6L8.314,0.6Z",
                    "M-30,0l0.001,0M19.2,0l0.001,0M2.343,0h0.286m0.286,0h0.286m0.286,0h0.286m0.286,0h0.286m0.286,0h0.286m0.286,0h0.286m0.286,0h0.286m0.286,0h0.286m0.286,0h0.286m0.286,0h0.286m0.286,0h0.286m0.286,0h0.286m0.286,0h0.286m0.286,0h0.286m0.286,0h0.286m0.286,0h0.286m0.286,0h0.286m0.286,0h0.286m0.286,0h0.286m0.286,0h0.286m0.286,0h0.286m0.286,0h0.286m0.286,0h0.286"]},
                  "legend": {"orient": "top-right", "offset": 7, "padding": 0, "title": null, "labelExpr": "indexof(datum.label, 'mod') >= 0 ? '(mod)' : datum.label", "labelAlign": "right", "labelOffset": -12, "symbolSize": 49, "symbolStrokeColor": "black", "symbolFillColor": "transparent", "symbolStrokeWidth": 1, "symbolOpacity": 1, "rowPadding": -1}}
              }
            }
          ],
          "resolve": {"axis": {"x": "independent", "y": "independent"}}
        }
      ]
    }
  ],
  "spacing": 41,
  "resolve": {"scale": {"shape": "independent", "strokeDash": "independent"}}
}
